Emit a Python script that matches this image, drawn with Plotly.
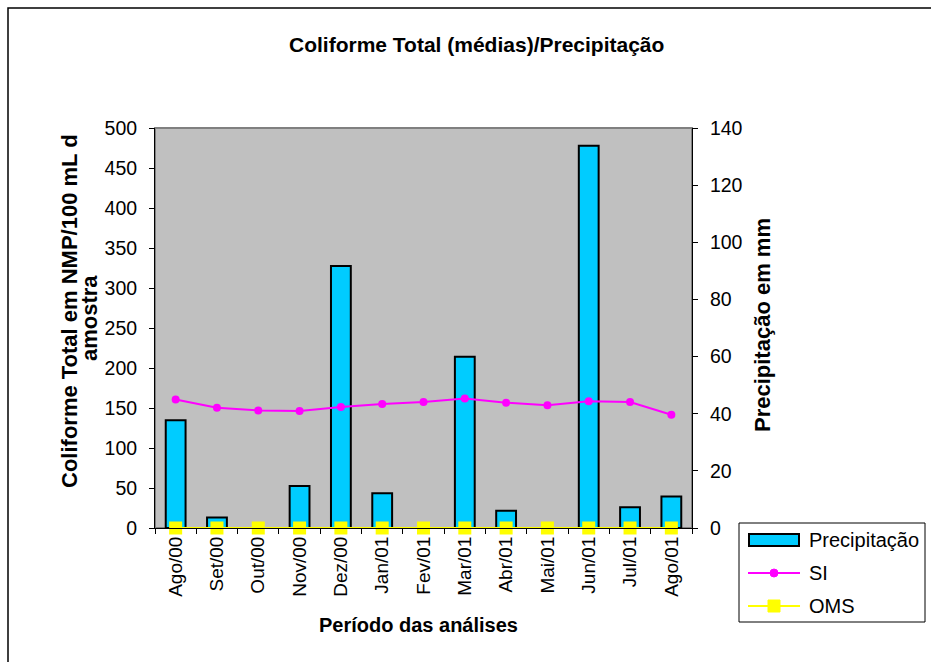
import plotly.graph_objects as go

# Monthly sampling periods
periodos = ["Ago/00", "Set/00", "Out/00", "Nov/00", "Dez/00", "Jan/01", "Fev/01",
            "Mar/01", "Abr/01", "Mai/01", "Jun/01", "Jul/01", "Ago/01"]

# Rainfall (mm), right axis
precipitacao = [37.7, 3.7, 0, 14.7, 91.7, 12.2, 0, 59.9, 6.0, 0, 133.8, 7.3, 11.0]

# Mean total coliform (NMP/100 mL), left axis
si = [160.5, 150.4, 147, 146.2, 151.2, 155, 157.5, 162, 156.6, 153.3, 158.3, 157.5, 141.6]
oms = [0] * len(periodos)

legenda = ["Precipitação", "SI", "OMS"]

FONT = "Arial, Liberation Sans, sans-serif"
CIANO, MAGENTA, AMARELO = "#00CCFF", "#FF00FF", "#FFFF00"

fig = go.Figure()

fig.add_trace(go.Bar(
    x=periodos, y=precipitacao, name=legenda[0],
    marker=dict(color=CIANO, line=dict(color="black", width=2)),
    yaxis="y",
))
fig.add_trace(go.Scatter(
    x=periodos, y=si, name=legenda[1], mode="lines+markers",
    line=dict(color=MAGENTA, width=2),
    marker=dict(symbol="circle", size=8, color=MAGENTA),
    yaxis="y2",
))
fig.add_trace(go.Scatter(
    x=periodos, y=oms, name=legenda[2], mode="lines+markers",
    line=dict(color=AMARELO, width=2),
    marker=dict(symbol="square", size=13, color=AMARELO),
    yaxis="y2", cliponaxis=False,
))

W, H = 931, 662
L, R, T, B = 155, 692, 128, 528
pw, ph = R - L, B - T

def px(x):
    return (x - L) / pw

def py(y):
    return (B - y) / ph

# frames plus the legend box on the lower right
shapes = [
    dict(type="rect", xref="paper", yref="paper", x0=0, x1=1, y0=0, y1=1,
         line=dict(color="#808080", width=2), layer="below"),
    dict(type="rect", xref="paper", yref="paper",
         x0=px(8), x1=px(940), y0=py(670), y1=py(8),
         line=dict(color="black", width=1.5)),
    dict(type="rect", xref="paper", yref="paper",
         x0=px(739), x1=px(925), y0=py(622), y1=py(523),
         line=dict(color="black", width=1), fillcolor="white"),
    dict(type="rect", xref="paper", yref="paper",
         x0=px(749), x1=px(799), y0=py(546), y1=py(534),
         line=dict(color="black", width=2), fillcolor=CIANO),
    dict(type="line", xref="paper", yref="paper",
         x0=px(748), x1=px(800), y0=py(573), y1=py(573),
         line=dict(color=MAGENTA, width=2)),
    dict(type="circle", xref="paper", yref="paper",
         x0=px(770), x1=px(778), y0=py(577), y1=py(569),
         line=dict(color=MAGENTA, width=1), fillcolor=MAGENTA),
    dict(type="line", xref="paper", yref="paper",
         x0=px(748), x1=px(800), y0=py(606), y1=py(606),
         line=dict(color=AMARELO, width=2)),
    dict(type="rect", xref="paper", yref="paper",
         x0=px(768), x1=px(780), y0=py(612), y1=py(600),
         line=dict(color=AMARELO, width=1), fillcolor=AMARELO),
]

annotations = [
    dict(text="<b>Coliforme Total (médias)/Precipitação</b>",
         xref="paper", yref="paper", x=px(476), y=py(44),
         showarrow=False, font=dict(size=21), xanchor="center", yanchor="middle"),
    dict(text="<b>Coliforme Total em NMP/100 mL d</b>",
         xref="paper", yref="paper", x=px(69), y=py(311),
         showarrow=False, textangle=-90, font=dict(size=22),
         xanchor="center", yanchor="middle"),
    dict(text="<b>amostra</b>",
         xref="paper", yref="paper", x=px(89), y=py(318),
         showarrow=False, textangle=-90, font=dict(size=22),
         xanchor="center", yanchor="middle"),
    dict(text="<b>Precipitação em mm</b>",
         xref="paper", yref="paper", x=px(762), y=py(325),
         showarrow=False, textangle=-90, font=dict(size=22),
         xanchor="center", yanchor="middle"),
    dict(text="<b>Período das análises</b>",
         xref="paper", yref="paper", x=px(418), y=py(625),
         showarrow=False, font=dict(size=20),
         xanchor="center", yanchor="middle"),
]
for nome, yy in zip(legenda, [540, 573, 606]):
    annotations.append(dict(text=nome, xref="paper", yref="paper",
                            x=px(807), y=py(yy), showarrow=False,
                            font=dict(size=20), xanchor="left", yanchor="middle"))

fig.update_layout(
    width=W, height=H,
    margin=dict(l=L, r=W - R, t=T, b=H - B),
    paper_bgcolor="white",
    plot_bgcolor="#C0C0C0",
    font=dict(family=FONT, size=19, color="black"),
    bargap=0.52,
    showlegend=False,
    xaxis=dict(
        type="category", categoryorder="array", categoryarray=periodos,
        tickangle=-90, tickson="boundaries", ticks="outside", ticklen=5,
        tickcolor="black", showline=True, linecolor="black", linewidth=1,
        showgrid=False, tickfont=dict(size=19),
        range=[-0.5, len(periodos) - 0.5],
    ),
    yaxis=dict(
        side="right", range=[0, 140], dtick=20,
        ticks="outside", ticklen=5, tickcolor="black", ticklabelstandoff=8,
        showline=True, linecolor="black", linewidth=1,
        showgrid=False, zeroline=False, tickfont=dict(size=19.5),
    ),
    yaxis2=dict(
        overlaying="y", side="left", range=[0, 500], dtick=50,
        ticks="outside", ticklen=5, tickcolor="black", ticklabelstandoff=8,
        showline=True, linecolor="black", linewidth=1,
        showgrid=False, zeroline=False, tickfont=dict(size=19.5),
    ),
    shapes=shapes,
    annotations=annotations,
)

fig.write_html("out.html")
